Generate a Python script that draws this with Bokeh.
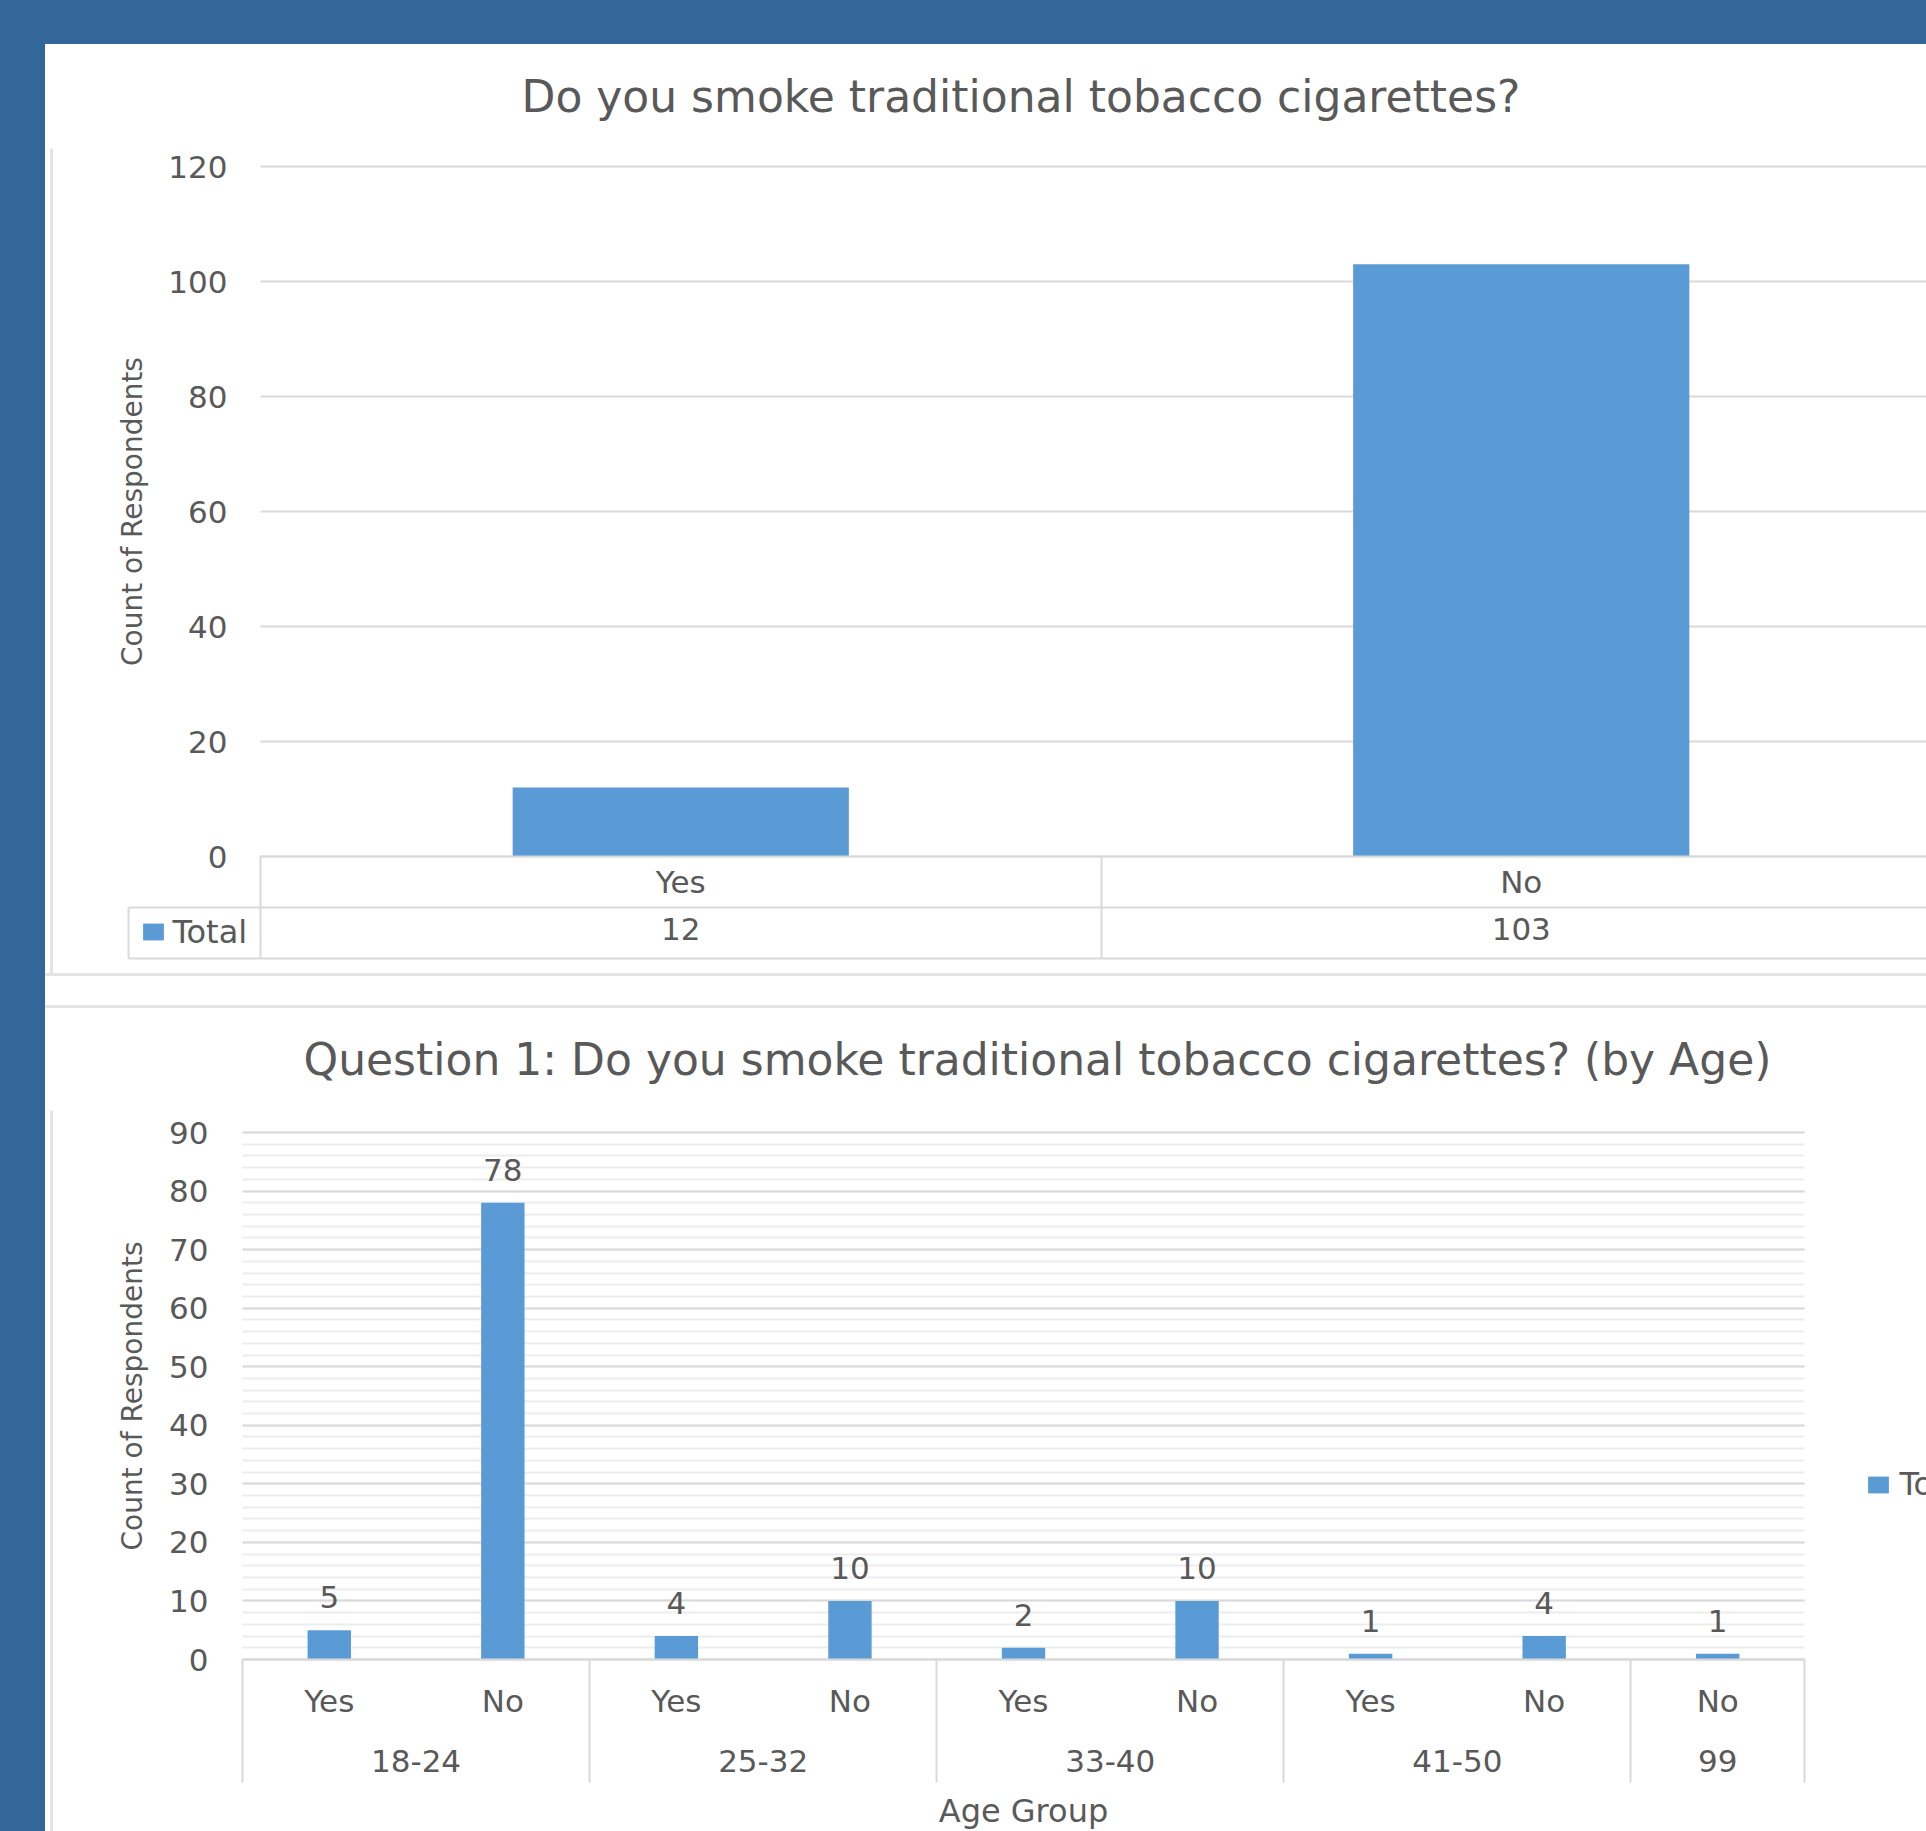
from bokeh.plotting import figure
from bokeh.models import (Range1d, FixedTicker, LinearAxis, Legend, LegendItem, Grid, Div)
from bokeh.layouts import column
from bokeh.embed import file_html
from bokeh.resources import INLINE
from bokeh.core.properties import value

# ---------------- data ----------------
title1 = "Do you smoke traditional tobacco cigarettes?"
title2 = "Question 1: Do you smoke traditional tobacco cigarettes? (by Age)"
y_label = "Count of Respondents"
x2_label = "Age Group"
series_name = "Total"

total_answers = ["Yes", "No"]
total_counts = [12, 103]

age_groups = ["18-24", "18-24", "25-32", "25-32", "33-40", "33-40", "41-50", "41-50", "99"]
age_answers = ["Yes", "No", "Yes", "No", "Yes", "No", "Yes", "No", "No"]
age_counts = [5, 78, 4, 10, 2, 10, 1, 4, 1]

y1_ticks = [0, 20, 40, 60, 80, 100, 120]
y2_ticks = [0, 10, 20, 30, 40, 50, 60, 70, 80, 90]
y2_minor = [0, 2, 4, 6, 8, 10, 12, 14, 16, 18, 20, 22, 24, 26, 28, 30, 32, 34, 36, 38,
            40, 42, 44, 46, 48, 50, 52, 54, 56, 58, 60, 62, 64, 66, 68, 70, 72, 74, 76,
            78, 80, 82, 84, 86, 88, 90]

# ---------------- styles ----------------
BLUE = "#336699"
FONT = "DejaVu Sans"
TXT = "#595959"
GRID = "#D9D9D9"
MINOR = "#EDEDED"
BAR = "#5B9BD5"
EDGE = "#E4E4E4"
W = 1881
LBL = "31px"
HAS_CROSS = "cross_bounds" in Grid.properties()


def no_ticks(ax):
    ax.major_tick_line_color = None
    ax.minor_tick_line_color = None
    ax.major_tick_out = 0
    ax.major_tick_in = 0
    ax.minor_tick_out = 0
    ax.minor_tick_in = 0


def label_style(ax, size=LBL):
    ax.major_label_text_font = FONT
    ax.major_label_text_font_size = size
    ax.major_label_text_color = TXT


def setup_text_axis(ax, loc, bounds, ticks, labels, standoff, line=True):
    ax.fixed_location = loc
    ax.bounds = bounds
    ax.ticker = FixedTicker(ticks=list(ticks))
    ax.major_label_overrides = {t: s for t, s in zip(ticks, labels)}
    ax.major_label_standoff = standoff
    no_ticks(ax)
    label_style(ax)
    ax.axis_line_color = GRID if line else None
    ax.axis_line_width = 2
    return ax


def rule_axis(loc, bounds, ticks, tick_in, line=True):
    """label-less axis whose inward ticks draw the table / group dividers"""
    ax = LinearAxis(fixed_location=loc, bounds=bounds, ticker=FixedTicker(ticks=list(ticks)),
                    major_label_overrides={t: "" for t in ticks},
                    major_label_standoff=0, major_label_text_font_size="0px")
    ax.major_tick_in = int(round(tick_in))
    ax.major_tick_out = 0
    ax.major_tick_line_color = GRID
    ax.major_tick_line_width = 2
    ax.minor_tick_line_color = None
    ax.minor_tick_in = 0
    ax.minor_tick_out = 0
    ax.axis_line_color = GRID if line else None
    ax.axis_line_width = 2
    return ax


def style_common(p, title_offset, border_top):
    p.outline_line_color = None
    p.xgrid.grid_line_color = None
    p.ygrid.grid_line_color = GRID
    p.ygrid.grid_line_width = 2
    yax = p.yaxis[0]
    no_ticks(yax)
    label_style(yax)
    yax.axis_line_color = None
    yax.axis_label = y_label
    yax.axis_label_text_font = FONT
    yax.axis_label_text_font_size = "28px"
    yax.axis_label_text_font_style = "normal"
    yax.axis_label_text_color = TXT
    p.title.text_font = FONT
    p.title.text_font_size = "44px"
    p.title.text_font_style = "normal"
    p.title.text_color = TXT
    p.title.align = "left"
    p.title.vertical_align = "middle"
    p.title.offset = title_offset
    p.title.standoff = border_top - 53


def grid_span(p, x0, x1, ticks, minor=None):
    if HAS_CROSS:
        p.ygrid.cross_bounds = (x0, x1)
    else:
        p.ygrid.grid_line_color = None
        p.ygrid.minor_grid_line_color = None
        if minor:
            p.segment(x0=[x0] * len(minor), x1=[x1] * len(minor), y0=minor, y1=minor,
                      line_color=MINOR, line_width=2, level="underlay")
        p.segment(x0=[x0] * len(ticks), x1=[x1] * len(ticks), y0=ticks, y1=ticks,
                  line_color=GRID, line_width=2, level="underlay")


def make_legend(r, loc, label_height, size, standoff):
    return Legend(items=[LegendItem(label=value(series_name), renderers=[r])],
                  location=loc, padding=0, margin=0, spacing=0,
                  glyph_width=26, glyph_height=21, label_standoff=standoff,
                  label_height=label_height,
                  border_line_color=None, background_fill_alpha=0,
                  label_text_font=FONT, label_text_font_size=size,
                  label_text_color=TXT)


# ================= chart 1 (page px: top 44, left 45) =================
TOP1, H1 = 44, 929
FT1 = 148                       # frame top (page px)
PPU1 = 690 / 120                # px per count
CAT1 = 840.5                    # px per category


def X1(px):
    return -0.5 + (px - 260) / CAT1


def Y1(py):
    return (856 - py) / PPU1


x1_end = X1(1926)
p1 = figure(width=W, height=H1, x_range=Range1d(X1(45), x1_end),
            y_range=Range1d(Y1(TOP1 + H1), Y1(FT1)),
            output_backend="svg", toolbar_location=None, tools="", frame_align=False,
            min_border_left=0, min_border_right=0, min_border_bottom=0,
            min_border_top=FT1 - TOP1, title=title1)
style_common(p1, 476, FT1 - TOP1)

x1 = list(range(len(total_answers)))
bounds1 = [x - 0.5 for x in x1] + [x1[-1] + 0.5]
bars1 = p1.vbar(x=x1, top=total_counts, width=0.4, fill_color=BAR, line_color=None)

yax1 = p1.yaxis[0]
yax1.fixed_location = bounds1[0]
yax1.bounds = (y1_ticks[0], y1_ticks[-1])
yax1.ticker = FixedTicker(ticks=y1_ticks)
yax1.major_label_standoff = 33
yax1.axis_label_standoff = 16
grid_span(p1, bounds1[0], x1_end, y1_ticks)

# data table under the chart
setup_text_axis(p1.xaxis[0], 0, (bounds1[0], x1_end), x1, total_answers, 7)
row2 = LinearAxis()
setup_text_axis(row2, Y1(906.5), (X1(128), x1_end), x1, [str(c) for c in total_counts], 11)
p1.add_layout(row2, "below")
p1.add_layout(rule_axis(Y1(958), (X1(128), x1_end), bounds1, 102), "below")
p1.add_layout(rule_axis(Y1(958), (X1(128), x1_end), [X1(128)], 51, line=False), "below")
p1.add_layout(make_legend(bars1, (140.4 - 45, (TOP1 + H1) - (932 - 18.5) - 37), 37, "32px", 6))

# faint chart-box edge
p1.segment(x0=[X1(51)], x1=[X1(51)], y0=[Y1(FT1)], y1=[Y1(TOP1 + H1)],
           line_color=EDGE, line_width=3)

# ================= gap between the two charts =================
GAP = 35
gap = Div(text="", width=W, height=GAP, margin=0,
          styles={"background-color": "white", "border-top": f"3px solid {EDGE}",
                  "border-bottom": f"3px solid {EDGE}", "box-sizing": "border-box"})

# ================= chart 2 =================
TOP2 = TOP1 + H1 + GAP
H2 = 1831 - TOP2
FT2 = 1110
PPU2 = 527 / 90
n2 = len(age_answers)
CAT2 = (1804 - 242) / n2


def X2(px):
    return (px - 242) / CAT2


def Y2(py):
    return (1659 - py) / PPU2


p2 = figure(width=W, height=H2, x_range=Range1d(X2(45), X2(1926)),
            y_range=Range1d(Y2(TOP2 + H2), Y2(FT2)),
            output_backend="svg", toolbar_location=None, tools="", frame_align=False,
            min_border_left=0, min_border_right=0, min_border_bottom=0,
            min_border_top=FT2 - TOP2, title=title2)
style_common(p2, 258, FT2 - TOP2)

xs2 = [i + 0.5 for i in range(n2)]
bars2 = p2.vbar(x=xs2, top=age_counts, width=0.25, fill_color=BAR, line_color=None)
p2.text(x=xs2, y=age_counts, text=[str(c) for c in age_counts], y_offset=-33,
        text_align="center", text_baseline="middle", text_font=value(FONT),
        text_font_size=LBL, text_color=TXT)

yax2 = p2.yaxis[0]
yax2.fixed_location = 0
yax2.bounds = (y2_ticks[0], y2_ticks[-1])
yax2.ticker = FixedTicker(ticks=y2_ticks, minor_ticks=y2_minor)
yax2.major_label_standoff = 34
yax2.axis_label_standoff = 17
p2.ygrid.minor_grid_line_color = MINOR
p2.ygrid.minor_grid_line_width = 2
grid_span(p2, 0, n2, y2_ticks, y2_minor)

# group rows derived from the data order
groups = []
for i, g in enumerate(age_groups):
    if not groups or groups[-1][0] != g:
        groups.append([g, i, i + 1])
    else:
        groups[-1][2] = i + 1
group_centers = [(s + e) / 2 for _, s, e in groups]
group_names = [g for g, _, _ in groups]
bounds2 = [groups[0][1]] + [e for _, _, e in groups]

setup_text_axis(p2.xaxis[0], 0, (0, n2), xs2, age_answers, 23)
grp = LinearAxis()
setup_text_axis(grp, 0, (0, n2), group_centers, group_names, 90, line=False)
p2.add_layout(grp, "below")
sep = rule_axis(Y2(1782), (0, n2), bounds2, 123, line=False)
sep.axis_label = x2_label
sep.axis_label_text_font = FONT
sep.axis_label_text_font_size = "32px"
sep.axis_label_text_font_style = "normal"
sep.axis_label_text_color = TXT
sep.axis_label_standoff = 9
p2.add_layout(sep, "below")

p2.add_layout(make_legend(bars2, (1865.4 - 45, 1831 - 1465 - 38), 38, "32px", 8))

p2.segment(x0=[X2(51)], x1=[X2(51)], y0=[Y2(FT2)], y1=[Y2(1831)],
           line_color=EDGE, line_width=3)

inner = column(p1, gap, p2, margin=(44, 0, 0, 45), styles={"background-color": "white"})
root = column(inner, styles={"background-color": BLUE})
open("out.html", "w").write(file_html(root, INLINE))
